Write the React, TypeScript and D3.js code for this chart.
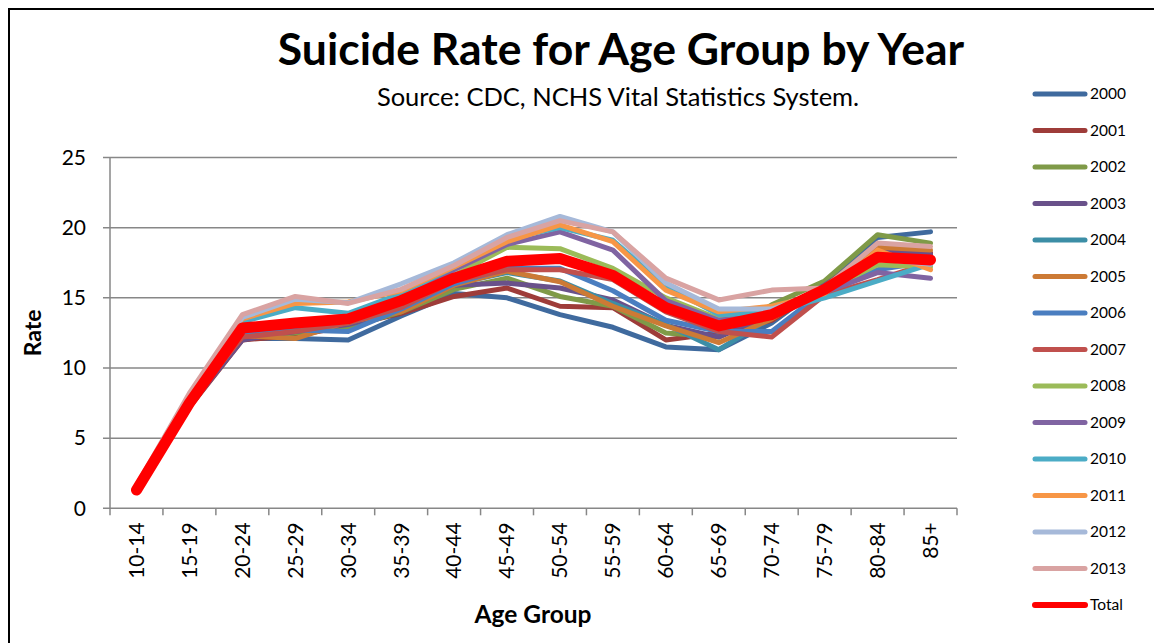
import React, { useEffect, useRef } from "react";
import * as d3 from "d3";

const categories = ["10-14","15-19","20-24","25-29","30-34","35-39","40-44","45-49","50-54","55-59","60-64","65-69","70-74","75-79","80-84","85+"];
const seriesNames = ["2000","2001","2002","2003","2004","2005","2006","2007","2008","2009","2010","2011","2012","2013","Total"];
const seriesColors = ["#3F6A9E","#9E3C39","#7F9A48","#69518A","#3C8EA6","#CC7A35","#4A7EC0","#C0504D","#9BBB59","#8064A2","#4BACC6","#F79646","#A6B9D9","#D9A3A2","#FF0000"];
const y2000 = [1.3,7.4,12.1,12.1,12.0,13.7,15.3,15.0,13.8,12.9,11.5,11.3,13.2,16.0,19.3,19.7];
const y2001 = [1.3,7.2,12.0,12.3,13.0,13.9,15.1,15.7,14.4,14.3,12.0,12.5,13.4,15.8,18.7,18.2];
const y2002 = [1.4,7.3,12.2,12.5,12.9,14.0,15.6,16.4,15.1,14.4,12.5,12.2,14.5,16.2,19.5,18.9];
const y2003 = [1.3,7.3,12.0,12.6,13.1,14.1,15.9,16.05,15.7,14.85,13.05,12.2,13.8,15.9,18.4,18.1];
const y2004 = [1.3,7.5,12.4,12.8,13.2,14.3,16.0,16.8,16.2,14.6,13.1,11.3,13.6,15.6,17.8,17.6];
const y2005 = [1.3,7.4,12.3,12.1,13.3,14.0,15.9,16.9,16.15,14.4,13.0,11.8,13.5,15.8,18.6,18.4];
const y2006 = [1.3,7.5,12.6,12.7,12.6,14.2,16.0,17.1,17.1,15.5,13.4,12.6,12.6,15.5,17.0,17.6];
const y2007 = [1.3,7.6,12.2,12.6,13.2,14.3,16.2,17.0,17.0,16.3,14.0,12.6,12.2,15.2,16.3,17.5];
const y2008 = [1.4,7.7,12.8,13.3,13.3,14.7,16.6,18.6,18.5,17.1,15.0,13.5,13.9,15.5,17.35,17.2];
const y2009 = [1.4,7.7,12.6,13.3,13.5,14.9,17.0,18.8,19.7,18.4,14.8,13.4,13.8,15.4,16.8,16.4];
const y2010 = [1.5,7.9,13.3,14.3,13.9,15.3,17.2,19.2,20.0,19.1,15.8,13.8,14.0,15.0,16.2,17.4];
const y2011 = [1.5,8.0,13.5,14.6,14.7,15.5,17.2,19.0,20.2,19.0,15.55,14.0,14.4,15.3,18.4,17.0];
const y2012 = [1.5,8.1,13.6,14.9,14.65,16.0,17.5,19.5,20.8,19.7,16.05,14.2,14.2,15.4,17.8,17.4];
const y2013 = [1.6,8.2,13.8,15.1,14.6,15.6,17.3,19.3,20.5,19.7,16.4,14.85,15.55,15.7,18.9,18.65];
const yTotal = [1.3,7.5,12.85,13.2,13.5,14.8,16.4,17.6,17.8,16.6,14.3,13.0,13.8,15.6,17.9,17.7];
const yTicks = [0,5,10,15,20,25];
const seriesValues = [y2000,y2001,y2002,y2003,y2004,y2005,y2006,y2007,y2008,y2009,y2010,y2011,y2012,y2013,yTotal];

const FONT = "Lato, 'Open Sans', sans-serif";

export default function App() {
  const ref = useRef<SVGSVGElement>(null);
  useEffect(() => {
    const svg = d3.select(ref.current);
    svg.selectAll("*").remove();
    const W = 1154, H = 643;
    const left = 110, right = 957, top = 157.5, bottom = 508.3;

    svg.append("path").attr("d", `M9,${H} L9,9 L${W},9`).attr("fill", "none").attr("stroke", "#000").attr("stroke-width", 2);

    const x = d3.scaleBand<string>().domain(categories).range([left, right]);
    const y = d3.scaleLinear().domain([0, 25]).range([bottom, top]);

    svg.append("g").selectAll("line").data(yTicks).join("line")
      .attr("x1", left - 7).attr("x2", right)
      .attr("y1", d => y(d)).attr("y2", d => y(d))
      .attr("stroke", "#878787").attr("stroke-width", 1.5);
    svg.append("line").attr("x1", left).attr("x2", left).attr("y1", top).attr("y2", bottom + 0.75)
      .attr("stroke", "#878787").attr("stroke-width", 1.5);
    const xt = categories.map((c) => x(c)!).concat([right]);
    svg.append("g").selectAll("line").data(xt).join("line")
      .attr("x1", d => d).attr("x2", d => d).attr("y1", bottom).attr("y2", bottom + 7)
      .attr("stroke", "#878787").attr("stroke-width", 1.5);

    svg.append("g").selectAll("text").data(yTicks).join("text")
      .attr("x", 86).attr("y", d => y(d)).attr("dy", "0.35em")
      .attr("text-anchor", "end").attr("font-family", FONT).attr("font-size", 21).attr("fill", "#000")
      .text(d => String(d));
    svg.append("g").selectAll("text").data(categories).join("text")
      .attr("transform", d => `translate(${x(d)! + x.bandwidth() / 2},${bottom + 14}) rotate(-90)`)
      .attr("dy", "0.35em").attr("text-anchor", "end")
      .attr("font-family", FONT).attr("font-size", 21).attr("fill", "#000")
      .text(d => d);

    svg.append("text").attr("transform", `translate(41,${(top + bottom) / 2}) rotate(-90)`)
      .attr("text-anchor", "middle").attr("font-family", FONT).attr("font-weight", "bold").attr("font-size", 23)
      .text("Rate");
    svg.append("text").attr("x", 533).attr("y", 623)
      .attr("text-anchor", "middle").attr("font-family", FONT).attr("font-weight", "bold").attr("font-size", 24.5)
      .text("Age Group");

    svg.append("text").attr("x", 621).attr("y", 65).attr("text-anchor", "middle")
      .attr("font-family", FONT).attr("font-weight", "bold").attr("font-size", 44.5).text("Suicide Rate for Age Group by Year");
    svg.append("text").attr("x", 618).attr("y", 106).attr("text-anchor", "middle")
      .attr("font-family", FONT).attr("font-size", 25.5).text("Source: CDC, NCHS Vital Statistics System.");

    const line = d3.line<number>()
      .x((_, i) => x(categories[i])! + x.bandwidth() / 2)
      .y(d => y(d));
    svg.append("g").selectAll("path").data(seriesValues).join("path")
      .attr("d", d => line(d))
      .attr("fill", "none")
      .attr("stroke", (_, i) => seriesColors[i])
      .attr("stroke-width", (_, i) => (i === seriesValues.length - 1 ? 11 : 5))
      .attr("stroke-linejoin", "round")
      .attr("stroke-linecap", "round");

    const lg = svg.append("g");
    seriesNames.forEach((n, i) => {
      const ly = 94 + i * 36.5;
      lg.append("line").attr("x1", 1035).attr("x2", 1085).attr("y1", ly).attr("y2", ly)
        .attr("stroke", seriesColors[i]).attr("stroke-width", i === seriesNames.length - 1 ? 6 : 5)
        .attr("stroke-linecap", "round");
      lg.append("text").attr("x", 1090).attr("y", ly).attr("dy", "0.35em")
        .attr("font-family", FONT).attr("font-size", 15.5).attr("fill", "#000").text(n);
    });
  }, []);
  return (
    <svg ref={ref} width={1154} height={643} style={{ position: "absolute", left: 0, top: 0, background: "#fff" }} />
  );
}
